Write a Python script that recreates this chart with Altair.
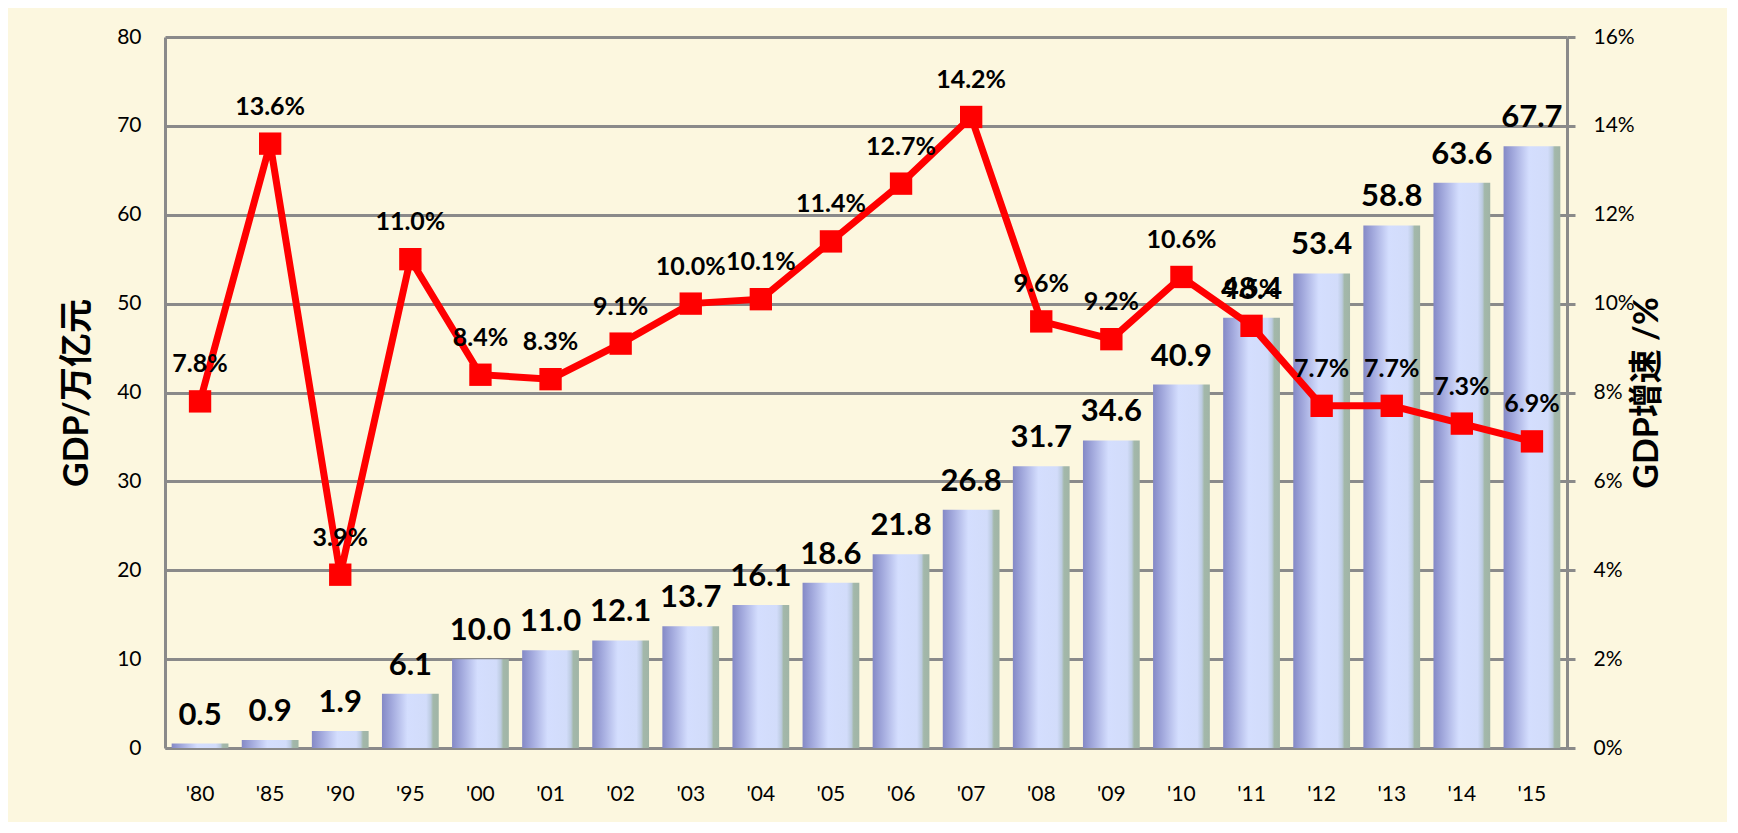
import altair as alt
import pandas as pd

years = ["'80", "'85", "'90", "'95", "'00", "'01", "'02", "'03", "'04", "'05",
         "'06", "'07", "'08", "'09", "'10", "'11", "'12", "'13", "'14", "'15"]
gdp = [0.5, 0.9, 1.9, 6.1, 10.0, 11.0, 12.1, 13.7, 16.1, 18.6,
       21.8, 26.8, 31.7, 34.6, 40.9, 48.4, 53.4, 58.8, 63.6, 67.7]
growth = [7.8, 13.6, 3.9, 11.0, 8.4, 8.3, 9.1, 10.0, 10.1, 11.4,
          12.7, 14.2, 9.6, 9.2, 10.6, 9.5, 7.7, 7.7, 7.3, 6.9]
left_ticks = [0, 10, 20, 30, 40, 50, 60, 70, 80]
right_ticks = [0, 2, 4, 6, 8, 10, 12, 14, 16]

df = pd.DataFrame({"year": years, "gdp": gdp, "growth": growth})

FONT = "Lato, 'Noto Sans CJK SC', sans-serif"
GRAY = "#8a8a8a"
RED = "#FF0000"

bar_fill = alt.LinearGradient(
    gradient="linear",
    x1=0, x2=1, y1=0, y2=0,
    stops=[
        alt.GradientStop(offset=0.0, color="#8489c6"),
        alt.GradientStop(offset=0.2, color="#a7aee0"),
        alt.GradientStop(offset=0.45, color="#d4defe"),
        alt.GradientStop(offset=0.78, color="#d2dcfa"),
        alt.GradientStop(offset=0.86, color="#bccbe0"),
        alt.GradientStop(offset=0.9, color="#a3b8aa"),
        alt.GradientStop(offset=1.0, color="#a0b4a6"),
    ],
)

x_enc = alt.X(
    "year:N",
    sort=years,
    scale=alt.Scale(paddingInner=0.19, paddingOuter=0.095),
    axis=alt.Axis(
        title=None, labelAngle=0, labelPadding=35, ticks=False,
        domainColor=GRAY, domainWidth=3,
        labelFont=FONT, labelFontSize=21, labelColor="black",
    ),
)

left_scale = alt.Scale(domain=[0, 80], nice=False)
right_scale = alt.Scale(domain=[0, 16], nice=False)

left_axis = alt.Axis(
    values=left_ticks, grid=True, gridColor=GRAY, gridWidth=3,
    domainColor=GRAY, domainWidth=3, ticks=False,
    labelPadding=24, labelFont=FONT, labelFontSize=21, labelColor="black",
    title="GDP/万亿元", titleFont=FONT, titleFontSize=34, titleFontWeight="bold",
    titleColor="black", titlePadding=22,
)

right_axis = alt.Axis(
    orient="right", values=right_ticks, grid=False,
    labelExpr="datum.value + '%'",
    domainColor=GRAY, domainWidth=3,
    ticks=True, tickSize=8, tickWidth=3, tickColor=GRAY,
    labelPadding=18, labelFont=FONT, labelFontSize=21, labelColor="black",
    title="GDP增速 /%", titleFont=FONT, titleFontSize=34, titleFontWeight="bold",
    titleColor="black", titleAngle=270, titlePadding=30,
)

y_left = alt.Y("gdp:Q", scale=left_scale, axis=left_axis)
y_right = alt.Y("growth:Q", scale=right_scale, axis=right_axis)

base = alt.Chart(df)

bars = base.mark_bar(color=bar_fill, opacity=1).encode(x=x_enc, y=y_left)

bar_text = base.mark_text(
    font=FONT, fontSize=31, fontWeight="bold", baseline="alphabetic",
    dy=-19, color="black",
).encode(
    x=x_enc,
    y=y_left,
    text=alt.Text("gdp:Q", format=".1f"),
)

line = base.mark_line(color=RED, strokeWidth=7).encode(x=x_enc, y=y_right)

pts = base.mark_point(
    shape="square", filled=True, size=500, color=RED, opacity=1
).encode(x=x_enc, y=y_right)

pct_text = base.transform_calculate(
    lbl="format(datum.growth, '.1f') + '%'"
).mark_text(
    font=FONT, fontSize=25, fontWeight="bold", baseline="middle",
    dy=-37, color="black",
).encode(
    x=x_enc,
    y=y_right,
    text="lbl:N",
)

left_layer = alt.layer(bars, bar_text)
right_layer = alt.layer(line, pts, pct_text)

chart = (
    alt.layer(left_layer, right_layer)
    .resolve_scale(y="independent")
    .properties(
        width=1402, height=711,
        padding={"left": 157, "top": 29, "right": 160, "bottom": 74},
        autosize=alt.AutoSizeParams(type="none"),
    )
    .configure(background="#FCF7DF")
    .configure_view(stroke=None)
)

chart.save("out.html", embed_options={"renderer": "svg", "actions": False})
